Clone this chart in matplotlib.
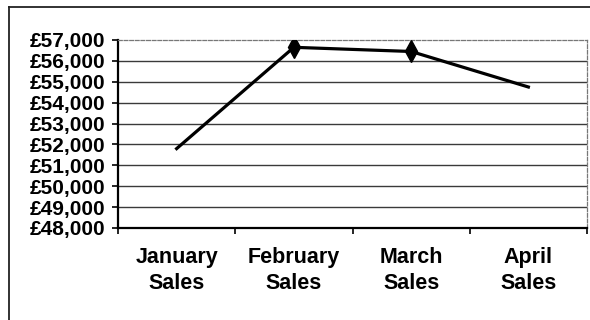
import numpy as np
from matplotlib import pyplot as plt
from matplotlib.lines import Line2D

# monthly sales
months = ['January\nSales', 'February\nSales', 'March\nSales', 'April\nSales']
sales = [51800, 56650, 56450, 54750]
y_ticks = list(range(48000, 58000, 1000))

plt.rcParams['font.family'] = ['Liberation Sans', 'DejaVu Sans']
plt.rcParams['font.weight'] = 'bold'

fig = plt.figure(figsize=(5.9, 3.2), dpi=100)
ax = fig.add_axes([118 / 590, 92 / 320, 469 / 590, 188 / 320])

# outer chart border (only top and left visible in the scan)
fig.add_artist(Line2D([9 / 590, 1.0], [1 - 6.5 / 320, 1 - 6.5 / 320], color='#222222', lw=1.3))
fig.add_artist(Line2D([9 / 590, 9 / 590], [0.0, 1 - 6.5 / 320], color='#222222', lw=1.3))

x = np.arange(len(months))
ax.plot(x, sales, color='black', lw=2.3, marker='d', markersize=11,
        markevery=[1, 2], solid_joinstyle='miter', zorder=3)

ax.set_xlim(-0.5, len(months) - 0.5)
ax.set_ylim(y_ticks[0], y_ticks[-1])

for v in y_ticks[1:-1]:
    ax.axhline(v, color='#3a3a3a', lw=1.0, zorder=1)

ax.set_yticks(y_ticks)
ax.set_yticklabels(['£{:,}'.format(v) for v in y_ticks], fontsize=15, fontweight='bold')
ax.tick_params(axis='y', direction='out', length=4, width=1.2, pad=5)

ax.set_xticks(np.arange(-0.5, len(months), 1.0))
ax.set_xticklabels([])
ax.set_xticks(x, minor=True)
ax.set_xticklabels(months, minor=True, fontsize=15.5, fontweight='bold', linespacing=1.3)
ax.tick_params(axis='x', which='major', direction='out', length=4, width=1.2)
ax.tick_params(axis='x', which='minor', length=0, pad=14)

for side in ['left', 'bottom']:
    ax.spines[side].set_linewidth(1.6)
    ax.spines[side].set_color('black')
for side in ['top', 'right']:
    ax.spines[side].set_linestyle((0, (3, 1.5)))
    ax.spines[side].set_linewidth(0.9)
    ax.spines[side].set_color('#777777')

plt.savefig('out.png', dpi=100)
plt.close()
